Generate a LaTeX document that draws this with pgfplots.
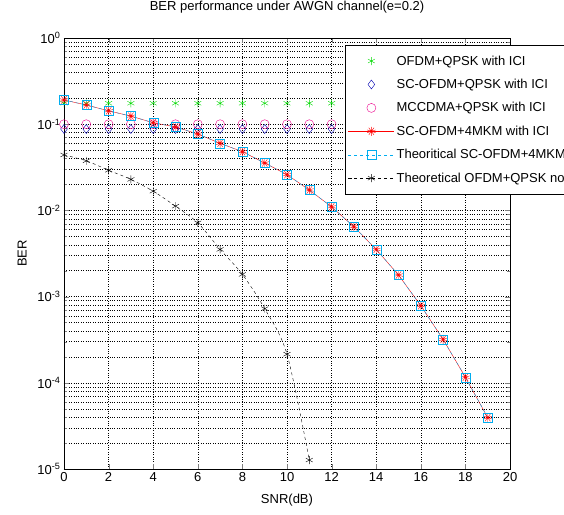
\documentclass[border=0pt]{standalone}
\usepackage{fontspec}
\setmainfont{Liberation Sans}
\usepackage{pgfplots}
\pgfplotsset{compat=1.18}
\begin{document}
\begin{tikzpicture}
\path[use as bounding box] (-64pt,-45pt) rectangle (500pt,469pt);
\begin{axis}[
  at={(0pt,0pt)}, anchor=south west,
  scale only axis, width=446pt, height=431pt,
  ymode=log, xmin=0, xmax=20, ymin=1e-5, ymax=1,
  xtick={0,2,...,20},
  ytick={1e-5,1e-4,1e-3,1e-2,1e-1,1},
  yticklabels={10\textsuperscript{-5},10\textsuperscript{-4},10\textsuperscript{-3},10\textsuperscript{-2},10\textsuperscript{-1},10\textsuperscript{0}},
  /pgf/number format/assume math mode=true,
  tick label style={font=\fontsize{13}{14}\selectfont},
  label style={font=\fontsize{13}{14}\selectfont},
  title style={font=\fontsize{13}{14}\selectfont, at={(axis description cs:0.5,1.058)}, anchor=center},
  title={BER performance under AWGN channel(e=0.2)},
  xlabel={SNR(dB)},
  ylabel={BER},
  xlabel style={at={(axis description cs:0.5,-0.072)}, anchor=center},
  ylabel style={at={(axis description cs:-0.094,0.5)}, anchor=center},
  grid=both,
  major grid style={black, dotted},
  minor grid style={black, dotted},
  tick align=inside,
  major tick length=5pt, minor tick length=3pt,
  axis line style={black},
  legend style={at={(axis description cs:0.630,0.984)}, anchor=north west,
    font=\fontsize{13}{14}\selectfont, draw=black, fill=white,
    row sep=8.5pt, inner xsep=3pt, inner ysep=8.5pt, cells={anchor=west}},
  legend image code/.code={\draw[mark repeat=2,mark phase=2] plot coordinates {(0pt,0pt)(23pt,0pt)(46pt,0pt)};},
]
\addplot[only marks, mark=asterisk, color=green!85!black, mark size=4pt] coordinates {
(0,0.175)(1,0.175)(2,0.175)(3,0.175)(4,0.175)(5,0.175)(6,0.175)(7,0.175)(8,0.175)(9,0.175)
(10,0.175)(11,0.175)(12,0.175)(13,0.175)(14,0.175)(15,0.175)(16,0.175)(17,0.175)(18,0.175)(19,0.175)};
\addlegendentry{OFDM+QPSK with ICI}
\addplot[only marks, mark=diamond, color=blue!70!black, mark size=4.5pt] coordinates {
(0,0.088)(1,0.088)(2,0.088)(3,0.088)(4,0.088)(5,0.088)(6,0.088)(7,0.088)(8,0.088)(9,0.088)
(10,0.088)(11,0.088)(12,0.088)(13,0.088)(14,0.088)(15,0.088)(16,0.088)(17,0.088)(18,0.088)(19,0.088)};
\addlegendentry{SC-OFDM+QPSK with ICI}
\addplot[only marks, mark=o, color=magenta, mark size=4.5pt] coordinates {
(0,0.1)(1,0.1)(2,0.1)(3,0.1)(4,0.1)(5,0.1)(6,0.1)(7,0.1)(8,0.1)(9,0.1)
(10,0.1)(11,0.1)(12,0.1)(13,0.1)(14,0.1)(15,0.1)(16,0.1)(17,0.1)(18,0.1)(19,0.1)};
\addlegendentry{MCCDMA+QPSK with ICI}
\addplot[red, solid, mark=10-pointed star, mark size=4.5pt, mark options={solid, fill=white}] coordinates {
(0,0.191)(1,0.167)(2,0.143)(3,0.124)(4,0.104)(5,0.093)(6,0.077)(7,0.060)(8,0.048)(9,0.0355)
(10,0.026)(11,0.01725)(12,0.011)(13,0.00647)(14,0.00353)(15,0.00178)(16,7.85e-4)(17,3.19e-4)(18,1.16e-4)(19,3.95e-5)};
\addlegendentry{SC-OFDM+4MKM with ICI}
\addplot[cyan, dashed, mark=square, mark size=4.5pt, mark options={solid}] coordinates {
(0,0.191)(1,0.167)(2,0.143)(3,0.124)(4,0.104)(5,0.093)(6,0.077)(7,0.060)(8,0.048)(9,0.0355)
(10,0.026)(11,0.01725)(12,0.011)(13,0.00647)(14,0.00353)(15,0.00178)(16,7.85e-4)(17,3.19e-4)(18,1.16e-4)(19,3.95e-5)};
\addlegendentry{Theoritical SC-OFDM+4MKM with ICI}
\addplot[black, dashed, smooth, mark=asterisk, mark size=4pt, mark options={solid}] coordinates {
(0,0.044)(1,0.0376)(2,0.0292)(3,0.0229)(4,0.0167)(5,0.0112)(6,0.00718)(7,0.00353)(8,0.00181)(9,7.25e-4)
(10,2.15e-4)(11,1.27e-5)};
\addlegendentry{Theoretical OFDM+QPSK no ICI}
\end{axis}
\end{tikzpicture}
\end{document}
